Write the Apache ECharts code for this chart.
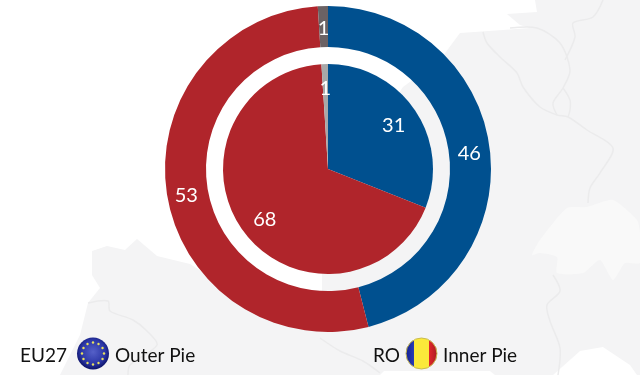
<!DOCTYPE html>
<html>
<head>
<meta charset="utf-8">
<title>EU27 / RO</title>
<script src="https://cdn.jsdelivr.net/npm/echarts@6/dist/echarts.min.js"></script>
<style>
html, body { margin: 0; padding: 0; background: #fff; }
#chart { width: 640px; height: 375px; }
</style>
</head>
<body>
<div id="chart"></div>
<script>
var categories = ['Blue', 'Red', 'Grey'];
var outerValues = [46, 53, 1];   // EU27
var innerValues = [31, 68, 1];   // RO
var outerColors = ['#00508f', '#b0252b', '#6b6264'];
var innerColors = ['#00508f', '#b0252b', '#a8a8a8'];
// small nudges so the numbers sit where the reference has them
var outerLabelOffsets = [[-3, 3], [2, 4], [0, 5]];
var innerLabelOffsets = [[-3, 3], [4, 2], [0, 3]];

// faint map behind the pies, traced by hand
var landShape = [[640,0],[535,0],[537,12],[507,14],[520,25],[530,28],[503,30],[460,33],[440,60],[403,87],
    [340,180],[322,272],[322,292],[300,310],[215,280],[190,264],[157,256],[137,239],[125,250],[107,246],[92,251],
    [92,275],[100,288],[88,303],[80,335],[60,375],[380,375],[384,371],[490,371],[495,375],[553,375],[580,351],
    [603,347],[630,365],[637,375],[640,375]];
var swissShape = [[532,255],[540,240],[567,208],[587,207],[613,200],[637,220],[640,233],[640,263],[625,263],
    [613,280],[600,260],[583,273],[557,273],[557,257],[540,253]];
var borderLines = [
    [[483,32],[487,43],[500,57],[517,73],[523,87],[540,107],[557,115],[568,117],[587,130],[613,148],[600,173],[590,188],[588,203]],
    [[510,28],[537,28],[560,43],[570,70],[563,88],[553,103],[557,115]],
    [[563,88],[570,100],[570,110],[568,117]],
    [[603,0],[593,17],[573,23],[575,37],[565,60]],
    [[553,275],[560,291],[547,305],[550,321],[560,348],[558,375]],
    [[320,338],[340,351],[363,361],[380,373]],
    [[88,303],[108,301],[110,311],[133,320],[147,331],[157,345],[130,365],[128,375]]
];

function makeData(values, colors, offsets) {
    var arr = [];
    for (var i = 0; i < values.length; i++) {
        var item = { name: categories[i], value: values[i] };
        if (colors) item.itemStyle = { color: colors[i] };
        if (offsets) item.label = { offset: offsets[i] };
        arr.push(item);
    }
    return arr;
}

function legendText(x, str) {
    return {
        type: 'text', x: x, y: 356, z: 5, silent: true,
        style: { text: str, fill: '#111', font: '19px Lato', verticalAlign: 'middle' }
    };
}

var graphics = [
    { type: 'polygon', z: -10, silent: true, shape: { points: landShape }, style: { fill: '#f4f4f5' } },
    { type: 'polygon', z: -9, silent: true, shape: { points: swissShape, smooth: 0.2 }, style: { fill: '#f9f9f9' } }
];
for (var b = 0; b < borderLines.length; b++) {
    graphics.push({
        type: 'polyline', z: -8, silent: true,
        shape: { points: borderLines[b], smooth: 0.3 },
        style: { stroke: '#ebebec', lineWidth: 1.5, fill: 'none' }
    });
}

// EU flag
graphics.push({
    type: 'circle', z: 5, silent: true, shape: { cx: 93, cy: 353.5, r: 16 },
    style: {
        fill: { type: 'radial', x: 0.5, y: 0.45, r: 0.55, colorStops: [
            { offset: 0, color: '#5560c8' }, { offset: 0.7, color: '#2a35a5' }, { offset: 1, color: '#0c1266' }] }
    }
});
for (var s = 0; s < 12; s++) {
    var a = s * Math.PI / 6;
    graphics.push({
        type: 'circle', z: 6, silent: true,
        shape: { cx: 93 + 11 * Math.cos(a), cy: 353.5 + 11 * Math.sin(a), r: 1.2 },
        style: { fill: '#e8e060' }
    });
}
// RO flag
graphics.push({
    type: 'circle', z: 5, silent: true, shape: { cx: 421.5, cy: 353.5, r: 15.5 },
    style: {
        fill: { type: 'linear', x: 0, y: 0, x2: 1, y2: 0, colorStops: [
            { offset: 0, color: '#141f90' }, { offset: 0.28, color: '#2a3db8' },
            { offset: 0.28, color: '#fbe93a' }, { offset: 0.74, color: '#fbe93a' },
            { offset: 0.74, color: '#e0262a' }, { offset: 1, color: '#a81c20' }] },
        stroke: '#c8bb50', lineWidth: 1
    }
});

graphics.push(legendText(20, 'EU27'));
graphics.push(legendText(115, 'Outer Pie'));
graphics.push(legendText(373, 'RO'));
graphics.push(legendText(443, 'Inner Pie'));

var myChart = echarts.init(document.getElementById('chart'), null, { renderer: 'canvas' });

var labelStyle = { show: true, position: 'inside', color: '#fff', fontFamily: 'Lato', fontSize: 20, formatter: '{c}' };

myChart.setOption({
    animation: false,
    backgroundColor: '#fff',
    graphic: { elements: graphics },
    series: [
        {
            name: 'EU27', type: 'pie', center: [328, 169], radius: [122, 163], startAngle: 90,
            silent: true, avoidLabelOverlap: false, label: labelStyle, labelLine: { show: false },
            data: makeData(outerValues, outerColors, outerLabelOffsets)
        },
        {
            name: 'RO', type: 'pie', center: [328, 169], radius: [0, 105], startAngle: 90,
            silent: true, label: { show: false }, labelLine: { show: false },
            data: makeData(innerValues, innerColors)
        },
        {
            // label ring only, the labels of the inner pie sit well out from its middle
            name: 'RO labels', type: 'pie', center: [328, 169], radius: [56, 104], startAngle: 90,
            silent: true, avoidLabelOverlap: false, label: labelStyle, labelLine: { show: false },
            itemStyle: { color: 'transparent' },
            data: makeData(innerValues, null, innerLabelOffsets)
        }
    ]
});
</script>
</body>
</html>
